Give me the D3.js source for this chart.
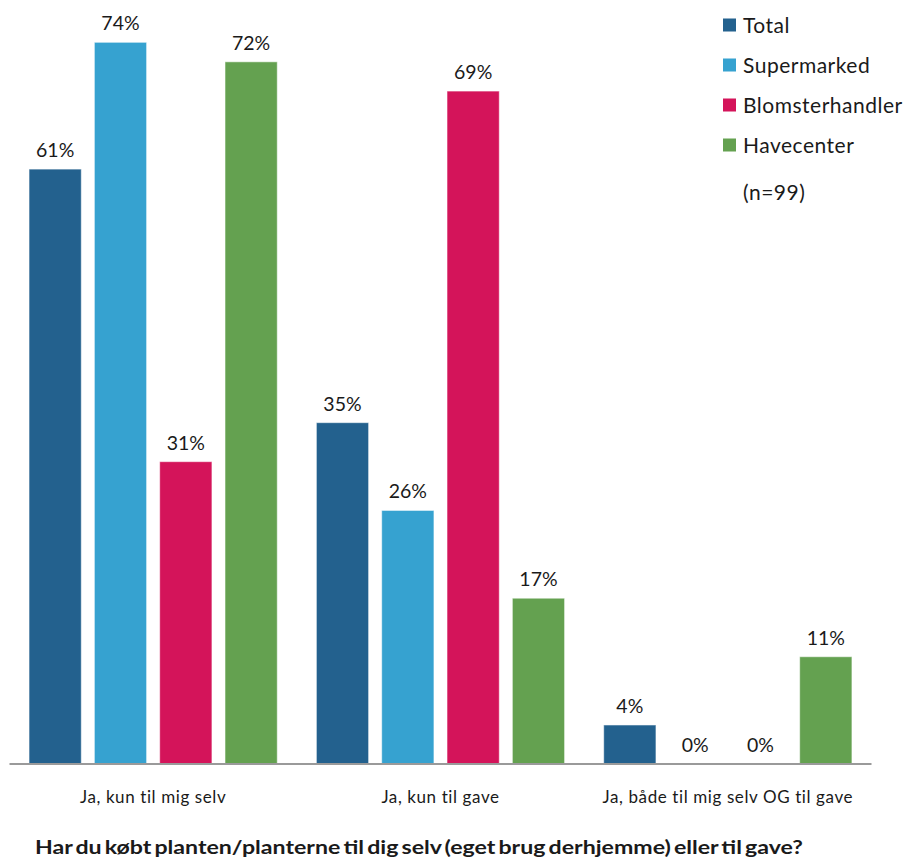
<!DOCTYPE html>
<html>
<head>
<meta charset="utf-8">
<script src="https://cdn.jsdelivr.net/npm/d3@7"></script>
<style>
  html, body { margin: 0; padding: 0; background: #fff; }
  svg { display: block; font-family: Lato, "Open Sans", sans-serif; }
</style>
</head>
<body>
<svg id="chart" width="909" height="860"></svg>
<script>
// Answer categories along the x axis
const categories = ["Ja, kun til mig selv", "Ja, kun til gave", "Ja, både til mig selv OG til gave"];
// Purchase channels (one bar per channel within each category)
const seriesNames = ["Total", "Supermarked", "Blomsterhandler", "Havecenter"];
const seriesColors = ["#23618e", "#36a2d0", "#d4145a", "#64a150"];
// Shares per series, in category order
const totalValues        = [0.61, 0.35, 0.04];
const supermarkedValues  = [0.74, 0.26, 0.00];
const blomsterValues     = [0.31, 0.69, 0.00];
const havecenterValues   = [0.72, 0.17, 0.11];
const sampleNote = "(n=99)";
const questionText = "Har du købt planten/planterne til dig selv (eget brug derhjemme) eller til gave?";

const seriesValues = [totalValues, supermarkedValues, blomsterValues, havecenterValues];
const rows = categories.map((c, i) => ({
  category: c,
  values: seriesNames.map((s, j) => ({ series: s, value: seriesValues[j][i], color: seriesColors[j] }))
}));

const svg = d3.select("#chart");

const x0 = d3.scaleBand().domain(categories).range([9.5, 871.5]).paddingInner(0).paddingOuter(0);
const x1 = d3.scaleBand().domain(seriesNames).range([13, 274.3]).paddingInner(0.2).paddingOuter(0.1);
const y = d3.scaleLinear().domain([0, 0.74]).range([764, 42.3]);

const pct = d3.format(".0%");

const groups = svg.append("g").selectAll("g")
  .data(rows).join("g")
  .attr("transform", d => `translate(${x0(d.category)},0)`);

groups.selectAll("rect")
  .data(d => d.values).join("rect")
  .attr("x", d => x1(d.series))
  .attr("width", x1.bandwidth())
  .attr("y", d => y(d.value))
  .attr("height", d => y(0) - y(d.value))
  .attr("fill", d => d.color)
  .attr("stroke", "rgba(255,255,255,0.55)")
  .attr("stroke-width", 1);

groups.selectAll("text.val")
  .data(d => d.values).join("text")
  .attr("class", "val")
  .attr("x", d => x1(d.series) + x1.bandwidth() / 2)
  .attr("y", d => y(d.value) - 12)
  .attr("text-anchor", "middle")
  .attr("font-size", 19.5)
  .attr("fill", "#1a1a1a")
  .text(d => pct(d.value));

// Baseline axis with category labels
const xAxis = d3.axisBottom(x0).tickSize(0).tickPadding(0);
const axisG = svg.append("g").attr("transform", `translate(0,${y(0)})`).call(xAxis);
axisG.select(".domain").attr("stroke", "#9a9a9a").attr("stroke-width", 2).attr("d", `M${x0.range()[0]},0H${x0.range()[1]}`);
axisG.selectAll(".tick text")
  .attr("dy", 0)
  .attr("y", 39)
  .attr("font-size", 17)
  .attr("letter-spacing", 0.6)
  .attr("font-family", "Lato, 'Open Sans', sans-serif")
  .attr("fill", "#1a1a1a");

// Legend
const legend = svg.append("g").attr("transform", "translate(723,0)");
const li = legend.selectAll("g").data(seriesNames).join("g")
  .attr("transform", (d, i) => `translate(0,${25 + i * 40})`);
li.append("rect").attr("x", 0).attr("y", -6.5).attr("width", 13).attr("height", 13)
  .attr("fill", (d, i) => seriesColors[i]);
li.append("text").attr("x", 20).attr("y", 7.5).attr("font-size", 21).attr("letter-spacing", 0.5)
  .attr("fill", "#1a1a1a").text(d => d);
legend.append("text").attr("x", 20).attr("y", 200).attr("font-size", 21).attr("letter-spacing", 0.5)
  .attr("fill", "#1a1a1a").text(sampleNote);

// Question title
svg.append("text")
  .attr("x", 35).attr("y", 854)
  .attr("font-size", 18.5).attr("font-weight", "bold").attr("fill", "#1a1a1a")
  .attr("word-spacing", -2)
  .attr("textLength", 768).attr("lengthAdjust", "spacingAndGlyphs")
  .text(questionText);
</script>
</body>
</html>
